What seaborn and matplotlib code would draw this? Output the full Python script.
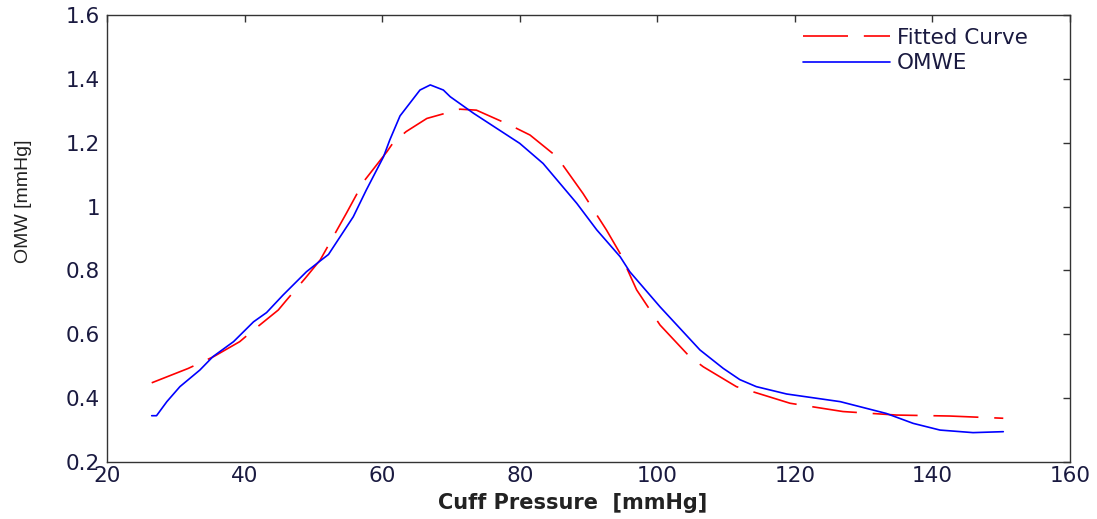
import matplotlib
matplotlib.use("Agg")
import matplotlib.pyplot as plt
import seaborn as sns
import pandas as pd

# OMWE (measured envelope)
omwe_x = [26.5, 27.2, 28.7, 30.6, 33.5, 35.4, 38.4, 41.3, 43.2, 45.6, 49.0, 51.0, 52.2,
          55.8, 57.7, 60.2, 61.1, 62.6, 65.5, 67.0, 68.9, 69.9, 73.3, 80.0, 83.4, 88.3,
          91.2, 94.6, 96.0, 100.4, 106.2, 109.6, 112.0, 114.4, 118.8, 126.6, 133.3,
          137.2, 141.1, 145.9, 150.3]
omwe_y = [0.345, 0.345, 0.389, 0.436, 0.488, 0.530, 0.577, 0.639, 0.668, 0.723, 0.796,
          0.830, 0.850, 0.968, 1.052, 1.156, 1.208, 1.284, 1.365, 1.381, 1.365, 1.344,
          1.292, 1.198, 1.135, 1.010, 0.927, 0.843, 0.796, 0.686, 0.551, 0.493, 0.458,
          0.436, 0.413, 0.389, 0.352, 0.321, 0.300, 0.292, 0.295]

# Fitted curve
fit_x = [26.5, 31.8, 35.5, 39.3, 41.0, 44.9, 46.1, 48.8, 51.0, 54.8, 57.3, 60.7, 61.6,
         63.5, 66.5, 71.3, 73.7, 78.6, 81.5, 85.4, 89.2, 92.6, 94.6, 97.0, 100.4, 104.7,
         106.7, 111.5, 119.3, 127.0, 134.8, 142.5, 150.3]
fit_y = [0.448, 0.493, 0.530, 0.577, 0.608, 0.676, 0.707, 0.775, 0.833, 0.979, 1.078,
         1.172, 1.200, 1.235, 1.276, 1.305, 1.302, 1.255, 1.224, 1.156, 1.041, 0.927,
         0.853, 0.739, 0.629, 0.530, 0.498, 0.436, 0.384, 0.358, 0.347, 0.344, 0.337]

x_ticks = [20, 40, 60, 80, 100, 120, 140, 160]
y_ticks = [0.2, 0.4, 0.6, 0.8, 1.0, 1.2, 1.4, 1.6]
y_tick_labels = ["0.2", "0.4", "0.6", "0.8", "1", "1.2", "1.4", "1.6"]

sns.set_style("white")
plt.rcParams["font.family"] = ["DejaVu Sans"]

fig = plt.figure(figsize=(10.97, 5.19), dpi=100)
ax = fig.add_axes([107 / 1097, 57 / 519, 963 / 1097, 447 / 519])

df_fit = pd.DataFrame({"x": fit_x, "y": fit_y})
df_om = pd.DataFrame({"x": omwe_x, "y": omwe_y})

sns.lineplot(data=df_fit, x="x", y="y", ax=ax, color="#ff0000", linewidth=1.2,
             linestyle=(0, (27, 9.5)), label="Fitted Curve", sort=False)
sns.lineplot(data=df_om, x="x", y="y", ax=ax, color="#0000ff", linewidth=1.2,
             label="OMWE", sort=False)

ax.set_xlim(20, 160)
ax.set_ylim(0.2, 1.6)
ax.set_xticks(x_ticks)
ax.set_yticks(y_ticks)
ax.set_yticklabels(y_tick_labels)
ax.tick_params(direction="in", length=5, width=1, top=True, right=True,
               labelsize=15.5, colors="#333333", labelcolor="#1a1a40")
ax.tick_params(axis="y", pad=5)
ax.tick_params(axis="x", pad=3)
for s in ax.spines.values():
    s.set_color("#333333")
    s.set_linewidth(1.0)

ax.set_xlabel("Cuff Pressure  [mmHg]", fontsize=15, fontweight="bold",
              color="#222222")
ax.xaxis.set_label_coords((573 - 107) / 963, (462 - 503) / 447)
ax.xaxis.label.set_va("center")
ax.set_ylabel("OMW [mmHg]", fontsize=14, color="#222222",
              family=["Liberation Sans", "DejaVu Sans"])
ax.yaxis.set_label_coords((24 - 107) / 963, (462 - 201) / 447)
ax.yaxis.label.set_va("center")

leg = ax.legend(loc="upper right", frameon=False, fontsize=15.5, handlelength=4.0,
                borderpad=0, borderaxespad=0, labelspacing=0.24, handletextpad=0.35,
                bbox_to_anchor=((1028 - 107) / 963, (462 - 28) / 447))
for t in leg.get_texts():
    t.set_color("#1a1a40")

fig.savefig("out.png", dpi=100)
